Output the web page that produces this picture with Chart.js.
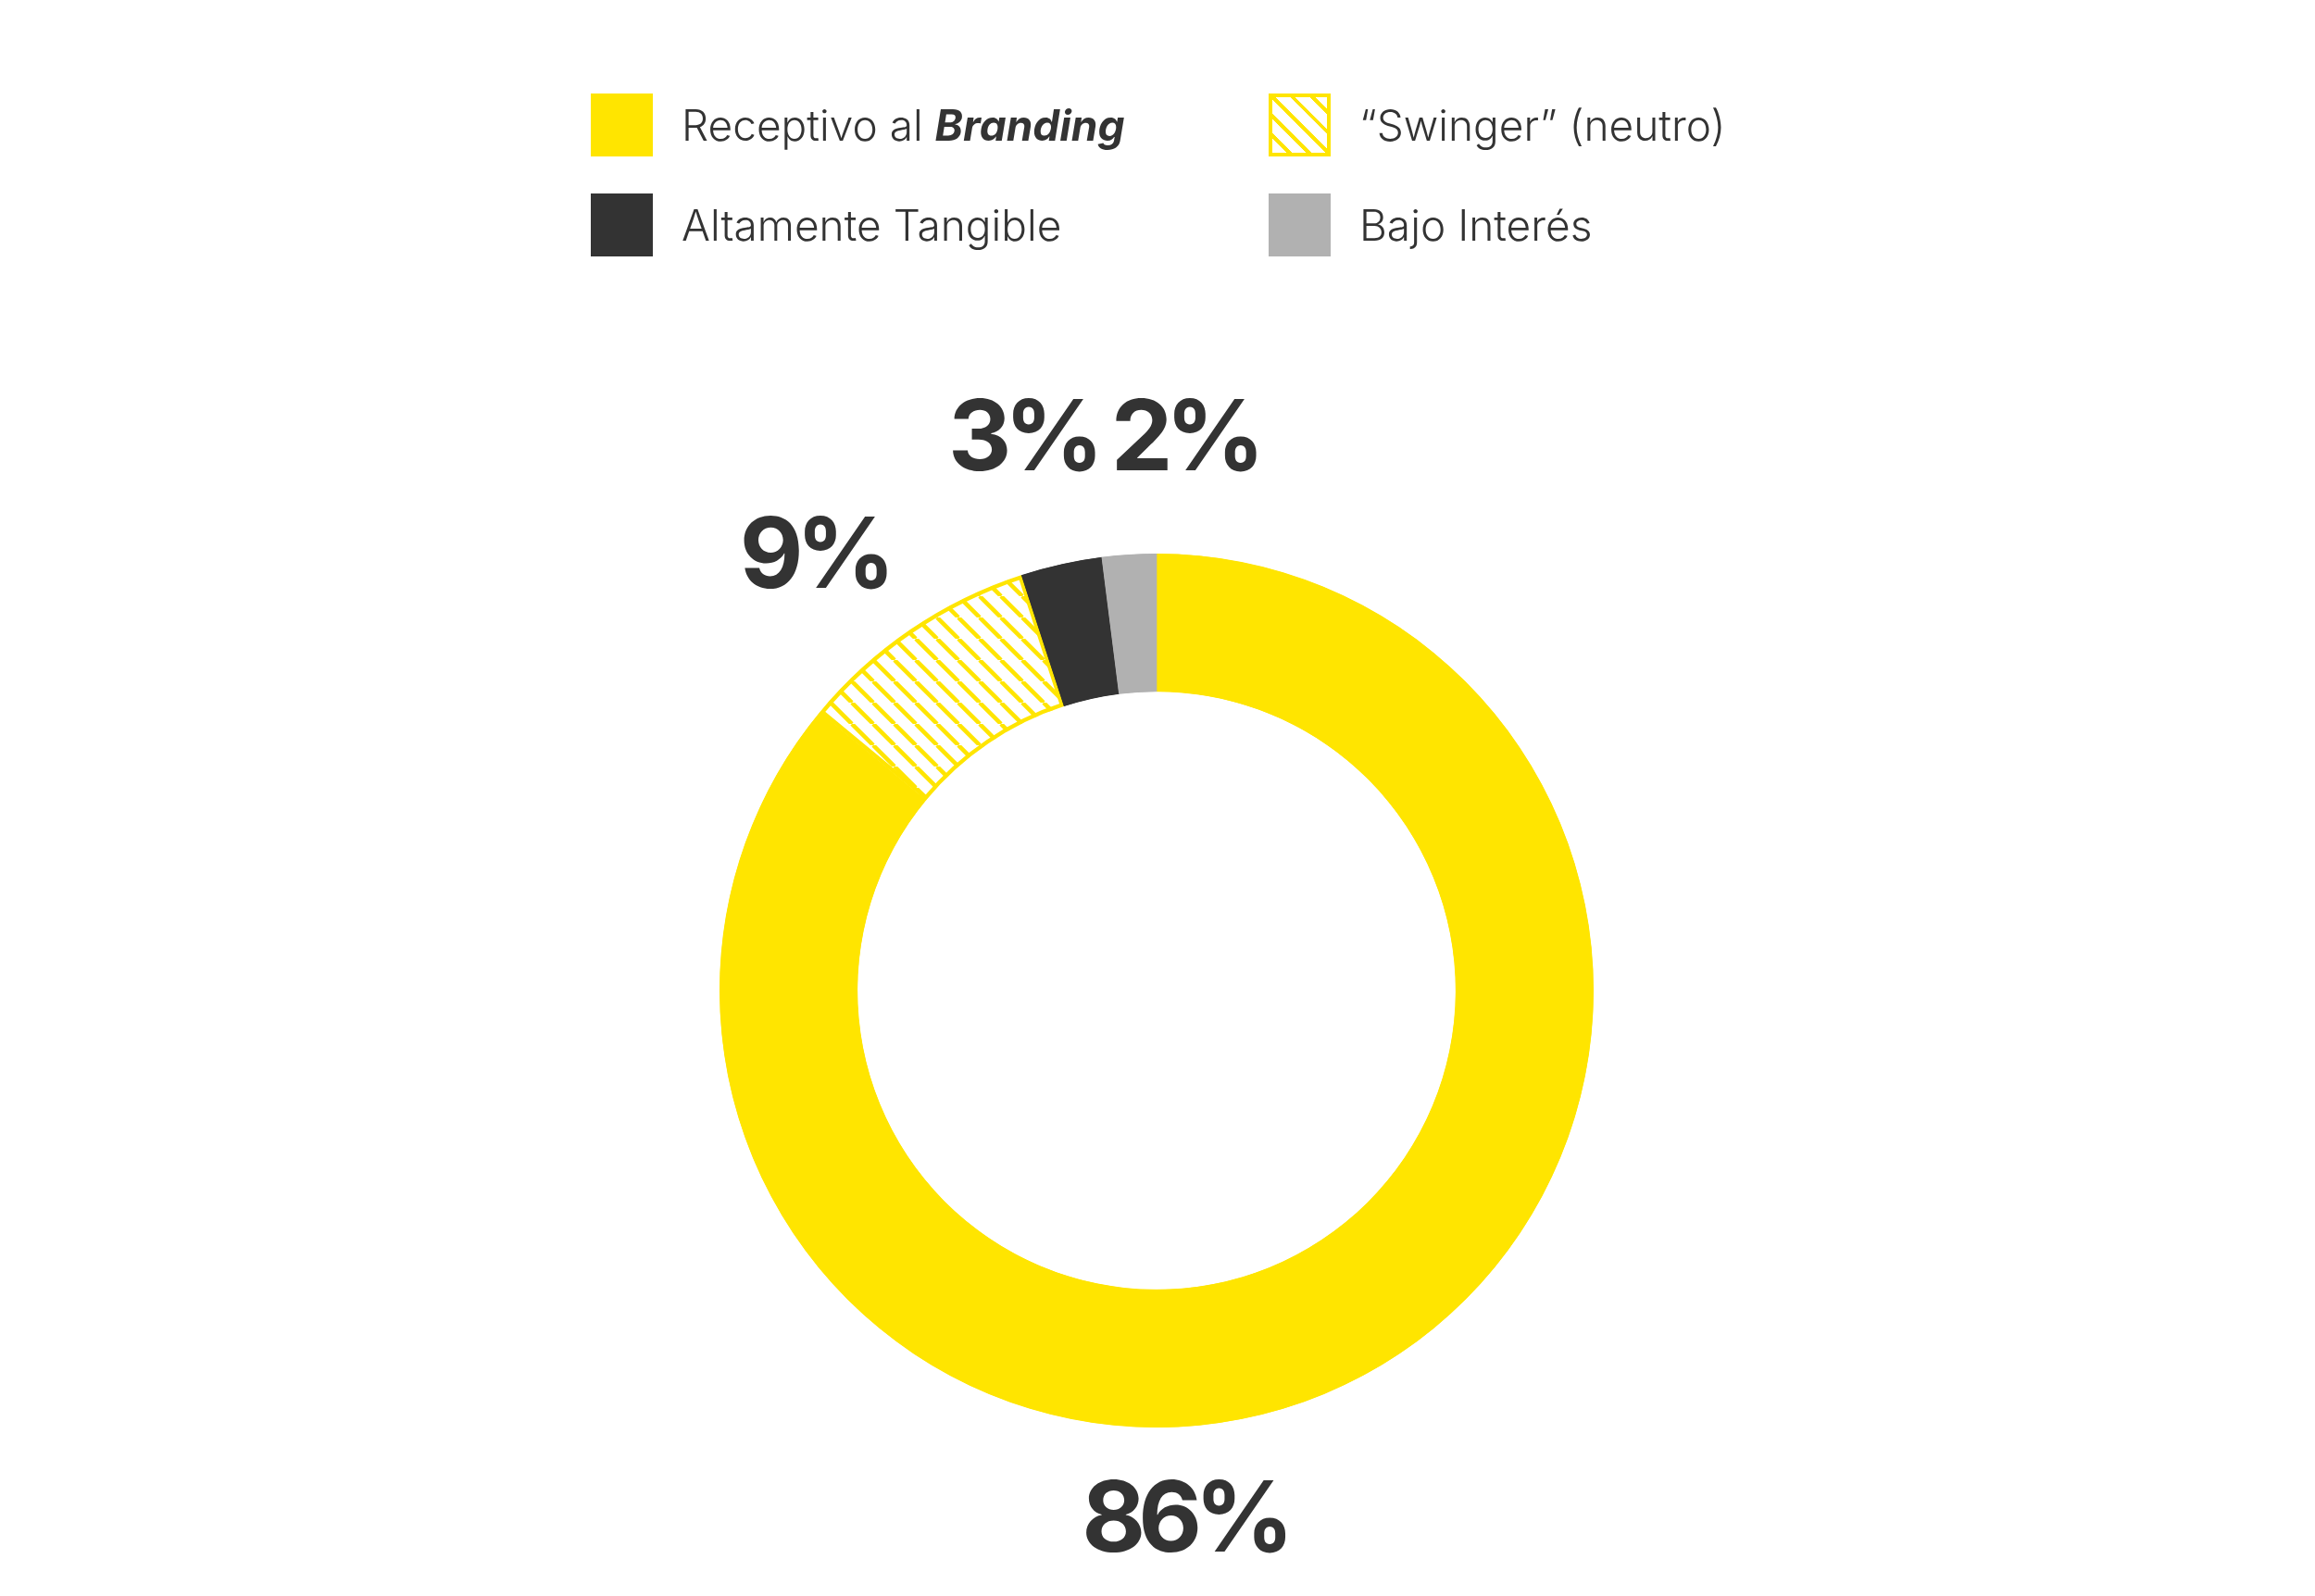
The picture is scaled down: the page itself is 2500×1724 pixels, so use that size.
<!DOCTYPE html>
<html lang="es">
<head>
<meta charset="utf-8">
<title>Receptivo al Branding</title>
<script src="https://cdn.jsdelivr.net/npm/chart.js@4.4.1/dist/chart.umd.min.js"></script>
<style>
  html, body { margin: 0; padding: 0; background: #fff; }
  #wrap { position: relative; width: 2500px; height: 1724px; }
  #chart { position: absolute; left: 0; top: 0; }
  #legend { position: absolute; left: 638px; top: 101px; display: grid;
    grid-template-columns: 732px auto; row-gap: 40px; }
  .item { display: flex; align-items: center; height: 68px; }
  .box { width: 67px; height: 68px; box-sizing: border-box; flex: none; }
  .txt { margin-left: 31px; font-family: Inter, "Open Sans", sans-serif; font-weight: 300;
    font-size: 46px; color: #333; white-space: nowrap; }
  .txt b { font-weight: 700; font-style: italic; }
</style>
</head>
<body>
<div id="wrap">
  <canvas id="chart" width="2500" height="1724"></canvas>
  <div id="legend"></div>
</div>
<script>
const categories = ['Receptivo al Branding', '“Swinger” (neutro)', 'Altamente Tangible', 'Bajo Interés'];
const values = [86, 9, 3, 2];
const colors = ['#FFE500', 'hatch', '#333333', '#B1B1B1'];

const YELLOW = '#FFE500';

// diagonal yellow hatch on white, used for the "Swinger" slice
function makeHatch() {
  const p = 23;
  const c = document.createElement('canvas');
  c.width = p; c.height = p;
  const g = c.getContext('2d');
  g.fillStyle = '#fff';
  g.fillRect(0, 0, p, p);
  g.strokeStyle = YELLOW;
  g.lineWidth = 4.5;
  g.beginPath();
  for (let k = -1; k <= 1; k++) {
    g.moveTo(k * p, 0);
    g.lineTo(k * p + p, p);
  }
  g.stroke();
  return g.createPattern(c, 'repeat');
}

const hatch = makeHatch();
const fills = colors.map(c => c === 'hatch' ? hatch : c);
const borders = colors.map(c => c === 'hatch' ? YELLOW : c);
const borderWidths = colors.map(c => c === 'hatch' ? 4 : 1);

// html legend, two columns
const legend = document.getElementById('legend');
categories.forEach((name, i) => {
  const item = document.createElement('div');
  item.className = 'item';
  const box = document.createElement('div');
  box.className = 'box';
  if (colors[i] === 'hatch') {
    box.style.border = '4px solid ' + YELLOW;
    box.style.background = 'repeating-linear-gradient(45deg, #fff 0 11px, ' + YELLOW + ' 11px 15px)';
  } else {
    box.style.background = colors[i];
  }
  const txt = document.createElement('div');
  txt.className = 'txt';
  txt.innerHTML = name.replace('Branding', '<b>Branding</b>');
  item.appendChild(box);
  item.appendChild(txt);
  legend.appendChild(item);
});

const percentLabels = {
  id: 'percentLabels',
  afterDatasetsDraw(chart, args, opts) {
    const meta = chart.getDatasetMeta(0);
    const ctx = chart.ctx;
    const cx = meta.data[0].x;
    const cy = meta.data[0].y;
    ctx.save();
    ctx.font = '700 106px Inter, "Liberation Sans", sans-serif';
    ctx.letterSpacing = '-8px';
    ctx.fillStyle = '#333';
    ctx.textAlign = 'center';
    ctx.textBaseline = 'middle';
    chart.data.datasets[0].data.forEach((v, i) => {
      const off = opts.offsets[i];
      ctx.fillText(v + '%', cx + off[0] - 4, cy + off[1]);
    });
    ctx.restore();
  }
};

new Chart(document.getElementById('chart').getContext('2d'), {
  type: 'doughnut',
  data: {
    labels: categories,
    datasets: [{
      data: values,
      backgroundColor: fills,
      borderColor: borders,
      borderWidth: borderWidths,
      borderAlign: 'inner',
      hoverOffset: 0
    }]
  },
  options: {
    responsive: false,
    devicePixelRatio: 1,
    animation: false,
    events: [],
    radius: 472,
    cutout: '68.4%',
    rotation: 0,
    layout: { padding: { left: 0, right: 2, top: 416, bottom: 0 } },
    plugins: {
      legend: { display: false },
      tooltip: { enabled: false },
      percentLabels: { offsets: [[34, 574], [-366, -467], [-141, -594], [34, -594]] }
    }
  },
  plugins: [percentLabels]
});
</script>
</body>
</html>
